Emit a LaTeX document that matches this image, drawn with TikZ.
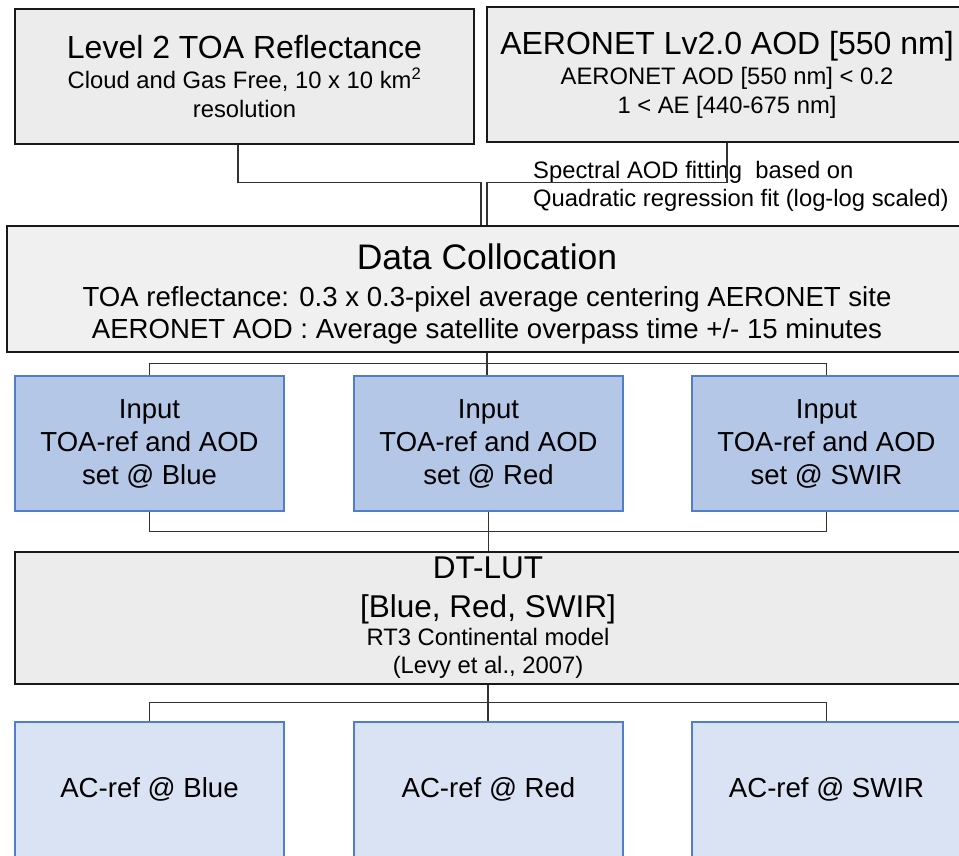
\documentclass[tikz,border=0pt]{standalone}
\usepackage{fontspec}
\setmainfont{Liberation Sans}
\usepackage{tikz}

\definecolor{boxgray}{RGB}{236,236,236}
\definecolor{collgray}{RGB}{240,240,240}
\definecolor{fillin}{RGB}{180,199,231}
\definecolor{fillout}{RGB}{218,227,243}
\definecolor{edgeblue}{RGB}{80,125,205}

\newcommand{\titlefs}{\fontsize{32}{38}\selectfont}
\newcommand{\notefs}{\fontsize{23.8}{29}\selectfont}
\newcommand{\collfs}{\fontsize{35.5}{42}\selectfont}
\newcommand{\midfs}{\fontsize{27.6}{32}\selectfont}

\begin{document}
\begin{tikzpicture}[
  x=1pt, y=-1pt,
  box/.style={draw=black!90, line width=1.5pt, fill=boxgray, align=center, inner sep=0pt},
  inbox/.style={draw=edgeblue, line width=1.6pt, fill=fillin, align=center, inner sep=0pt, minimum width=269pt, minimum height=135pt, font=\fontsize{27.5}{33}\selectfont},
  outbox/.style={inbox, fill=fillout},
  ln/.style={draw=black!80, line width=1.1pt},
]
\useasboundingbox (0,0) rectangle (959,855);

% sources
\node[box, minimum width=459pt, minimum height=135pt, font=\notefs] (toa) at (244.5,76.5) {{\titlefs Level 2 TOA Reflectance}\\[1pt]Cloud and Gas Free, 10 x 10 km\textsuperscript{2}\\resolution};
\node[box, minimum width=480pt, minimum height=135pt, font=\notefs] (aeronet) at (727,74.5) {{\titlefs AERONET Lv2.0 AOD [550 nm]}\\[1pt]AERONET AOD [550 nm] < 0.2\\1 < AE [440-675 nm]};
\node[font=\fontsize{23.8}{28}\selectfont, align=left, anchor=base west, inner sep=0pt] (fitnote) at (533,206) {Spectral AOD fitting~ based on\\Quadratic regression fit (log-log scaled)};

% collocation
\node[box, fill=collgray, minimum width=960pt, minimum height=126pt, text height=105pt, font=\midfs] (colloc) at (487,289) {{\collfs Data Collocation}\\[5pt]TOA reflectance: 0.3 x 0.3-pixel average centering AERONET site\\AERONET AOD : Average satellite overpass time +/- 15 minutes};

% inputs per band
\node[inbox] (inblue) at (149.5,443.5) {Input\\TOA-ref and AOD\\set @ Blue};
\node[inbox] (inred) at (488.5,443.5) {Input\\TOA-ref and AOD\\set @ Red};
\node[inbox] (inswir) at (826.5,443.5) {Input\\TOA-ref and AOD\\set @ SWIR};

% LUT
\node[box, minimum width=946pt, minimum height=132pt, font=\fontsize{23.8}{28}\selectfont] (dtlut) at (488,618) {{\fontsize{31.5}{38}\selectfont DT-LUT}\\[11pt]{\fontsize{31.5}{38}\selectfont{[}Blue, Red, SWIR]}\\RT3 Continental model\\(Levy et al., 2007)};

% outputs
\node[outbox, font=\midfs] (acblue) at (149.5,789.5) {AC-ref @ Blue};
\node[outbox, font=\midfs] (acred) at (488.5,789.5) {AC-ref @ Red};
\node[outbox, font=\midfs] (acswir) at (826.5,789.5) {AC-ref @ SWIR};

\draw[ln] ([xshift=-6.5pt]toa.south) |- ([xshift=-6pt,yshift=43pt]colloc.north) -- ([xshift=-6pt]colloc.north);
\draw[ln] (aeronet.south) |- ([yshift=43pt]colloc.north) -- (colloc.north);
\draw[ln] (colloc.south) -- (colloc.south |- inred.north);
\draw[ln] (inblue.north) |- ([yshift=12pt]inswir.north) -- (inswir.north);
\draw[ln] (inblue.south) |- ([yshift=-20pt]inswir.south) -- (inswir.south);
\draw[ln] (inred.south) -- (inred.south |- dtlut.north);
\draw[ln] (dtlut.south) -- (dtlut.south |- acred.north);
\draw[ln] (acblue.north) |- ([yshift=19pt]acswir.north) -- (acswir.north);
\end{tikzpicture}
\end{document}
